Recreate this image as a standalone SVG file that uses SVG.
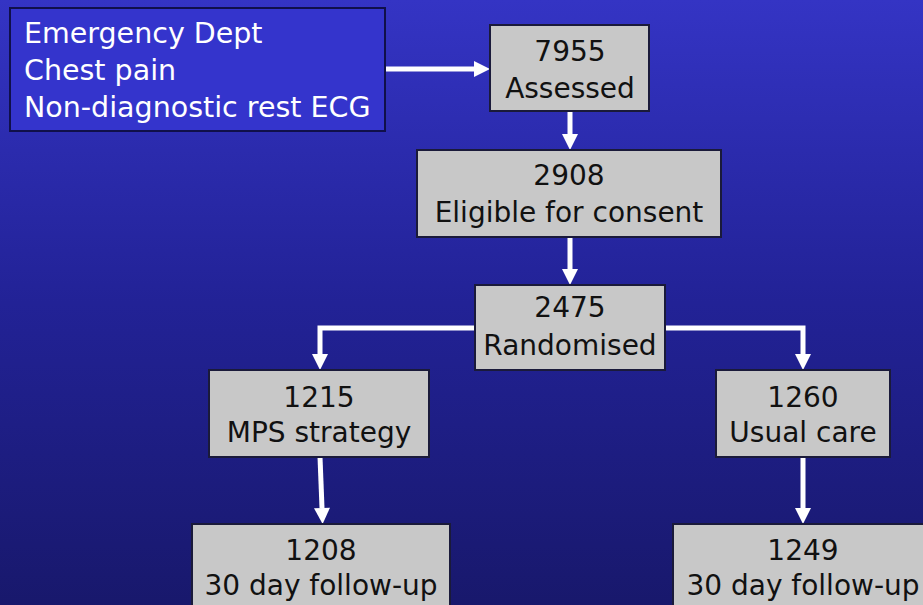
<svg xmlns="http://www.w3.org/2000/svg" width="923" height="605" viewBox="0 0 923 605">
<defs>
<linearGradient id="bg" x1="0" y1="0" x2="0" y2="1">
<stop offset="0" stop-color="#3434c4"/>
<stop offset="0.5" stop-color="#222296"/>
<stop offset="1" stop-color="#18186c"/>
</linearGradient>
<marker id="ah" markerWidth="4" markerHeight="4" refX="0" refY="2" orient="auto" markerUnits="strokeWidth" overflow="visible">
<path d="M0,0.4 L3.2,2 L0,3.6 Z" fill="#ffffff"/>
</marker>
<style>
.box{fill:#c8c8c8;stroke:#1a1a3a;stroke-width:2}
.t{font-family:"DejaVu Sans",sans-serif;font-size:28px;fill:#111;text-anchor:middle}
.w{font-family:"DejaVu Sans",sans-serif;font-size:28.5px;fill:#ffffff}
.c{fill:none;stroke:#ffffff;stroke-width:5}
</style>
</defs>
<rect width="923" height="605" fill="url(#bg)"/>
<g id="connectors">
<path class="c" d="M385,69 L474,69" marker-end="url(#ah)"/>
<path class="c" d="M570,111 L570,134" marker-end="url(#ah)"/>
<path class="c" d="M570,237 L570,269" marker-end="url(#ah)"/>
<path class="c" d="M475,328 L320,328 L320,354" marker-end="url(#ah)"/>
<path class="c" d="M665,328 L803,328 L803,354" marker-end="url(#ah)"/>
<path class="c" d="M320,457 L322,508" marker-end="url(#ah)"/>
<path class="c" d="M803,457 L803,508" marker-end="url(#ah)"/>
</g>
<g id="ed">
<rect x="10" y="8" width="375" height="123" fill="#3434cc" stroke="#10104a" stroke-width="2"/>
<text class="w" x="24" y="43">Emergency Dept</text>
<text class="w" x="24" y="80">Chest pain</text>
<text class="w" x="24" y="117">Non-diagnostic rest ECG</text>
</g>
<g id="assessed">
<rect class="box" x="490" y="25" width="159" height="86"/>
<text class="t" x="570" y="61">7955</text>
<text class="t" x="570" y="98">Assessed</text>
</g>
<g id="eligible">
<rect class="box" x="417" y="150" width="304" height="87"/>
<text class="t" x="569" y="185">2908</text>
<text class="t" x="569" y="222">Eligible for consent</text>
</g>
<g id="randomised">
<rect class="box" x="475" y="285" width="190" height="85"/>
<text class="t" x="570" y="317">2475</text>
<text class="t" x="570" y="355">Randomised</text>
</g>
<g id="mps">
<rect class="box" x="209" y="370" width="220" height="87"/>
<text class="t" x="319" y="407">1215</text>
<text class="t" x="319" y="442">MPS strategy</text>
</g>
<g id="usual">
<rect class="box" x="716" y="370" width="174" height="87"/>
<text class="t" x="803" y="407">1260</text>
<text class="t" x="803" y="442">Usual care</text>
</g>
<g id="fu1">
<rect class="box" x="192" y="524" width="258" height="90"/>
<text class="t" x="321" y="560">1208</text>
<text class="t" x="321" y="595">30 day follow-up</text>
</g>
<g id="fu2">
<rect class="box" x="673" y="524" width="260" height="90"/>
<text class="t" x="803" y="560">1249</text>
<text class="t" x="803" y="595">30 day follow-up</text>
</g>
</svg>
